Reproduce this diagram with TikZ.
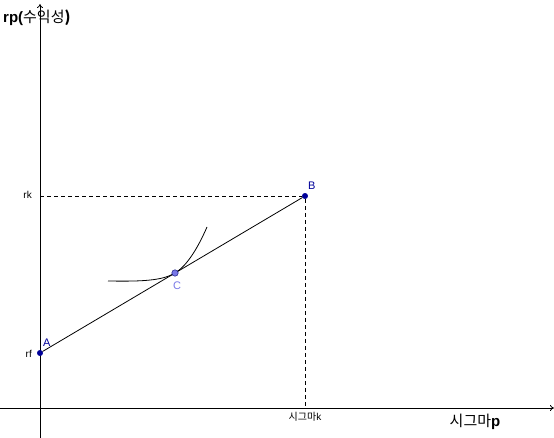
\documentclass[tikz,border=0pt]{standalone}
\usepackage{fontspec}
\setmainfont{Liberation Sans}
\newfontfamily\krfont{Noto Sans CJK KR}
\usetikzlibrary{arrows.meta,positioning}
\definecolor{ptblue}{RGB}{0,0,153}
\definecolor{ptlav}{RGB}{120,120,230}
\begin{document}
\begin{tikzpicture}[
    x=1pt, y=-1pt,
    axis/.style={-{To[length=4pt,width=6pt]}, line width=0.8pt},
    guide/.style={dashed, line width=0.7pt, dash pattern=on 4pt off 3pt},
    curve/.style={line width=0.8pt},
    pt/.style={circle, draw=ptblue, fill=ptblue, inner sep=0pt, minimum size=5.5pt},
    ptc/.style={circle, draw=ptblue!70!black, fill=ptlav, inner sep=0pt, minimum size=6.5pt},
    lbl/.style={font=\fontsize{10}{12}\selectfont, inner sep=1pt},
    ptlbl/.style={font=\fontsize{11}{12}\selectfont, text=ptblue, inner sep=1pt}
]
\useasboundingbox (0,0) rectangle (554,438);

% axes
\coordinate (ybot) at (40,438);
\coordinate (ytop) at (40,4);
\coordinate (xleft) at (0,408);
\coordinate (xright) at (554,408);
\draw[axis] (ybot) -- (ytop);
\draw[axis] (xleft) -- (xright);

% points
\node[pt] (A) at (40,353) {};
\node[pt] (B) at (305,196) {};
\coordinate (rkaxis) at (40,196);
\coordinate (skaxis) at (305,408);

\draw[guide] (rkaxis) -- (B);
\draw[guide] (B) -- (skaxis);
\draw[curve] (A) -- (B);

% indifference curve
\coordinate (Cpos) at (175,273);
\coordinate (cleft) at (108,281);
\coordinate (cright) at (207,227);
\draw[curve] (cleft) .. controls (140,281.5) and (162,281) .. (Cpos)
    .. controls (186,266.5) and (197,250) .. (cright);
\node[ptc] (C) at (Cpos) {};

% labels
\node[ptlbl, anchor=south west] (Alab) at (42,348) {A};
\node[ptlbl, anchor=south west] (Blab) at (307,191) {B};
\node[ptlbl, text=ptlav, anchor=north] (Clab) at (177,281) {C};
\node[lbl, anchor=east] (rk) at (33,195) {rk};
\node[lbl, anchor=east] (rf) at (33,354) {rf};
\node[font=\fontsize{15}{17}\selectfont\bfseries, anchor=west, inner sep=0pt] (ylab) at (3,18) {rp(\krfont\mdseries 수익성\bfseries)};
\node[lbl, anchor=north] (sk) at (305,411) {{\krfont 시그마}k};
\node[font=\fontsize{15}{17}\selectfont, anchor=north, inner sep=0pt] (sp) at (475,414) {{\krfont 시그마}\textbf{p}};

\end{tikzpicture}
\end{document}
